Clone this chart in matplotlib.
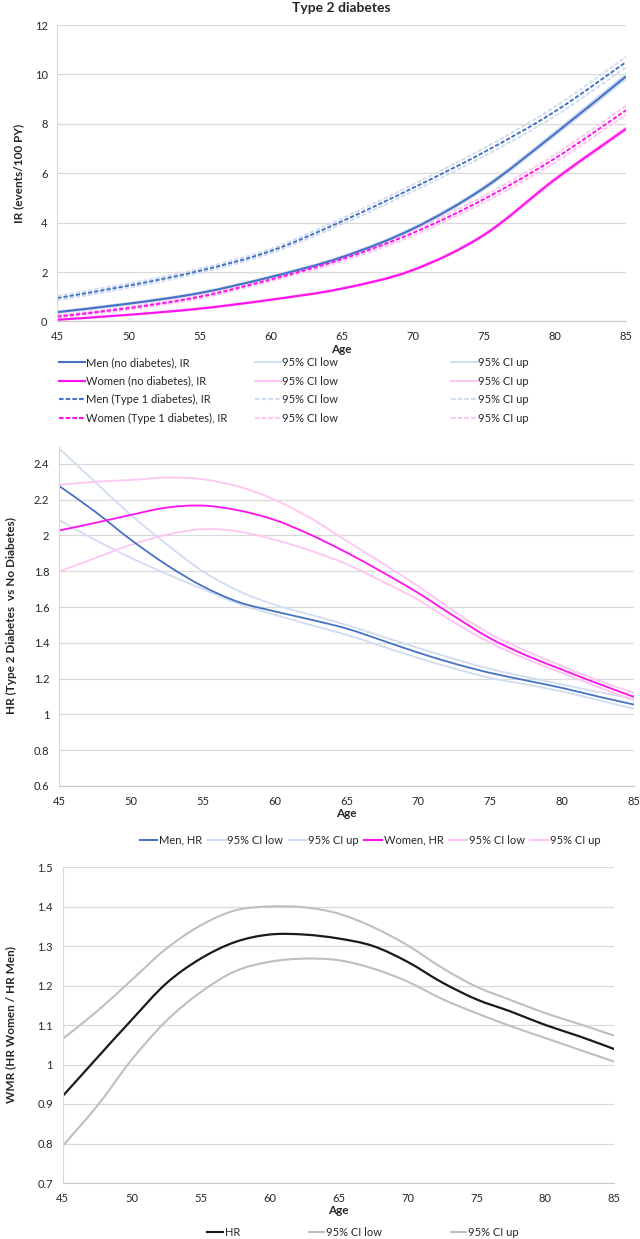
import numpy as np
import matplotlib
matplotlib.use('Agg')
import matplotlib.pyplot as plt
from matplotlib.path import Path
from matplotlib.patches import PathPatch
from matplotlib.lines import Line2D
from matplotlib.ticker import FuncFormatter

plt.rcParams['font.family'] = ['Lato', 'DejaVu Sans']

# ---- panel 1: incidence rates (events/100 PY)
ages_ir = [45, 50, 55, 60, 65, 70, 75, 80, 85]
men_nd = [0.38, 0.72, 1.15, 1.80, 2.60, 3.75, 5.40, 7.60, 9.92]
men_nd_lo = [0.35, 0.69, 1.12, 1.77, 2.56, 3.70, 5.34, 7.52, 9.82]
men_nd_up = [0.41, 0.75, 1.18, 1.83, 2.64, 3.80, 5.46, 7.68, 10.02]
women_nd = [0.07, 0.27, 0.52, 0.88, 1.33, 2.08, 3.50, 5.75, 7.80]
women_nd_lo = [0.06, 0.26, 0.50, 0.86, 1.31, 2.05, 3.46, 5.70, 7.74]
women_nd_up = [0.08, 0.28, 0.54, 0.90, 1.35, 2.11, 3.54, 5.80, 7.86]
men_t1 = [0.95, 1.45, 2.05, 2.85, 4.05, 5.40, 6.85, 8.50, 10.50]
men_t1_lo = [0.86, 1.36, 1.96, 2.76, 3.93, 5.26, 6.69, 8.31, 10.29]
men_t1_up = [1.04, 1.54, 2.14, 2.94, 4.17, 5.54, 7.01, 8.69, 10.71]
women_t1 = [0.20, 0.54, 1.00, 1.70, 2.52, 3.58, 4.95, 6.60, 8.55]
women_t1_lo = [0.15, 0.48, 0.93, 1.63, 2.43, 3.47, 4.82, 6.44, 8.37]
women_t1_up = [0.25, 0.60, 1.07, 1.77, 2.61, 3.69, 5.08, 6.76, 8.73]

# ---- panel 2: HR type 2 diabetes vs no diabetes
ages_hr = [45, 47.5, 50, 52.5, 55, 57.5, 60, 62.5, 65, 67.5, 70, 72.5, 75, 77.5, 80, 82.5, 85]
men_hr = [2.277, 2.134, 1.976, 1.835, 1.716, 1.628, 1.576, 1.53, 1.48, 1.413, 1.345, 1.284, 1.232, 1.19, 1.148, 1.10, 1.055]
men_hr_lo = [2.087, 1.976, 1.875, 1.785, 1.70, 1.618, 1.557, 1.50, 1.445, 1.38, 1.315, 1.256, 1.204, 1.167, 1.128, 1.08, 1.031]
men_hr_up = [2.487, 2.30, 2.115, 1.95, 1.80, 1.69, 1.613, 1.557, 1.50, 1.435, 1.371, 1.31, 1.254, 1.21, 1.167, 1.126, 1.087]
women_hr = [2.028, 2.07, 2.115, 2.156, 2.167, 2.14, 2.087, 2.004, 1.905, 1.795, 1.678, 1.548, 1.425, 1.33, 1.25, 1.172, 1.098]
women_hr_lo = [1.799, 1.873, 1.948, 2.004, 2.035, 2.022, 1.976, 1.915, 1.84, 1.743, 1.64, 1.514, 1.40, 1.31, 1.232, 1.153, 1.079]
women_hr_up = [2.283, 2.30, 2.31, 2.324, 2.314, 2.273, 2.20, 2.097, 1.97, 1.845, 1.715, 1.576, 1.45, 1.355, 1.27, 1.19, 1.12]

# ---- panel 3: women-to-men ratio of HR
ages_wmr = [45, 47.5, 50, 52.5, 55, 57.5, 60, 62.5, 65, 67.5, 70, 72.5, 75, 77.5, 80, 82.5, 85]
wmr = [0.92, 1.017, 1.113, 1.205, 1.268, 1.31, 1.329, 1.329, 1.319, 1.30, 1.26, 1.208, 1.165, 1.134, 1.10, 1.071, 1.039]
wmr_lo = [0.794, 0.895, 1.012, 1.11, 1.183, 1.236, 1.26, 1.268, 1.264, 1.243, 1.21, 1.166, 1.13, 1.097, 1.067, 1.037, 1.007]
wmr_up = [1.065, 1.135, 1.214, 1.293, 1.352, 1.39, 1.40, 1.398, 1.382, 1.348, 1.302, 1.245, 1.197, 1.163, 1.13, 1.102, 1.073]

BLUE = '#4472C4'
BLUE_CI = '#D0DCF2'
PINK = '#FF10F0'
PINK_CI = '#FFC4F4'
DASH = (0, (2.2, 1.0))


def smooth_line(ax, x, y, **kw):
    # excel style smoothed line: cubic bezier through every data point
    x = np.asarray(x, float)
    y = np.asarray(y, float)
    n = len(x)
    verts = [(x[0], y[0])]
    codes = [Path.MOVETO]
    for i in range(n - 1):
        a = max(i - 1, 0)
        b = min(i + 2, n - 1)
        verts.append((x[i] + (x[i + 1] - x[a]) / 6, y[i] + (y[i + 1] - y[a]) / 6))
        verts.append((x[i + 1] - (x[b] - x[i]) / 6, y[i + 1] - (y[b] - y[i]) / 6))
        verts.append((x[i + 1], y[i + 1]))
        codes += [Path.CURVE4] * 3
    ax.add_patch(PathPatch(Path(verts, codes), fill=False, capstyle='butt', **kw))


def style_axes(ax, ylim, yticks):
    ax.set_xlim(45, 85)
    ax.set_xticks(range(45, 86, 5))
    ax.set_ylim(*ylim)
    ax.set_yticks(yticks)
    ax.yaxis.set_major_formatter(FuncFormatter(lambda v, p: f'{round(v, 2):g}'))
    ax.grid(axis='y', color='#D9D9D9', lw=0.9)
    ax.set_axisbelow(True)
    for s in ['top', 'right']:
        ax.spines[s].set_visible(False)
    ax.spines['left'].set_color('#D9D9D9')
    ax.spines['bottom'].set_color('#C8C8C8')
    ax.tick_params(length=0, labelsize=8, colors='#262626', pad=7)
    ax.set_xlabel('Age', fontsize=8.5, fontweight='bold', labelpad=1, color='#262626')


fig = plt.figure(figsize=(6.4, 12.39), dpi=100)
H = 1239.0
W = 640.0


def add_ax(left, right, top, bottom):
    return fig.add_axes([left / W, 1 - bottom / H, (right - left) / W, (bottom - top) / H])


# ---------------- panel 1
ax1 = add_ax(57.3, 626, 25, 321.5)
for lo, up, c, ls in [(men_nd_lo, men_nd_up, BLUE_CI, '-'), (women_nd_lo, women_nd_up, PINK_CI, '-'),
                      (men_t1_lo, men_t1_up, BLUE_CI, DASH), (women_t1_lo, women_t1_up, PINK_CI, DASH)]:
    smooth_line(ax1, ages_ir, lo, edgecolor=c, lw=1.4, linestyle=ls)
    smooth_line(ax1, ages_ir, up, edgecolor=c, lw=1.4, linestyle=ls)
smooth_line(ax1, ages_ir, men_nd, edgecolor=BLUE, lw=1.5)
smooth_line(ax1, ages_ir, women_nd, edgecolor=PINK, lw=1.5)
smooth_line(ax1, ages_ir, men_t1, edgecolor=BLUE, lw=1.4, linestyle=DASH)
smooth_line(ax1, ages_ir, women_t1, edgecolor=PINK, lw=1.4, linestyle=DASH)
style_axes(ax1, (0, 12), range(0, 13, 2))
ax1.set_title('Type 2 diabetes', fontsize=10, fontweight='bold', pad=9, color='#262626')
ax1.set_ylabel('IR (events/100 PY)', fontsize=8.5, fontweight='bold', color='#262626')
ax1.yaxis.set_label_coords(-0.058, 0.5)

leg_cols = [
    ([BLUE, PINK, BLUE, PINK], ['-', '-', DASH, DASH],
     ['Men (no diabetes), IR', 'Women (no diabetes), IR', 'Men (Type 1 diabetes), IR', 'Women (Type 1 diabetes), IR'], 59),
    ([BLUE_CI, PINK_CI, BLUE_CI, PINK_CI], ['-', '-', DASH, DASH], ['95% CI low'] * 4, 255),
    ([BLUE_CI, PINK_CI, BLUE_CI, PINK_CI], ['-', '-', DASH, DASH], ['95% CI up'] * 4, 451),
]
for colors, styles, labels, xpos in leg_cols:
    handles = [Line2D([], [], color=c, ls=s, lw=1.5) for c, s in zip(colors, styles)]
    fig.legend(handles, labels, loc='upper left', bbox_to_anchor=(xpos / W, 1 - 357 / H),
               frameon=False, fontsize=8, handlelength=2.3, handletextpad=0.1,
               labelspacing=0.68, borderpad=0, borderaxespad=0, labelcolor='#262626')

# ---------------- panel 2
ax2 = add_ax(59, 634, 446, 786)
smooth_line(ax2, ages_hr, men_hr_lo, edgecolor=BLUE_CI, lw=1.3)
smooth_line(ax2, ages_hr, men_hr_up, edgecolor=BLUE_CI, lw=1.3)
smooth_line(ax2, ages_hr, women_hr_lo, edgecolor=PINK_CI, lw=1.3)
smooth_line(ax2, ages_hr, women_hr_up, edgecolor=PINK_CI, lw=1.3)
smooth_line(ax2, ages_hr, men_hr, edgecolor=BLUE, lw=1.3)
smooth_line(ax2, ages_hr, women_hr, edgecolor=PINK, lw=1.3)
style_axes(ax2, (0.6, 2.5), np.arange(0.6, 2.41, 0.2))
ax2.set_ylabel('HR (Type 2 Diabetes  vs No Diabetes)', fontsize=8.5, fontweight='bold', color='#262626')
ax2.yaxis.set_label_coords(-0.073, 0.5)
handles = [Line2D([], [], color=c, lw=1.5) for c in [BLUE, BLUE_CI, BLUE_CI, PINK, PINK_CI, PINK_CI]]
labels = ['Men, HR', '95% CI low', '95% CI up', 'Women, HR', '95% CI low', '95% CI up']
fig.legend(handles, labels, loc='center', bbox_to_anchor=(370 / W, 1 - 840 / H), ncol=6,
           frameon=False, fontsize=8, handlelength=1.6, handletextpad=0.15, columnspacing=0.5,
           borderpad=0, borderaxespad=0, labelcolor='#262626')

# ---------------- panel 3
ax3 = add_ax(62.7, 614.3, 867, 1183)
smooth_line(ax3, ages_wmr, wmr_lo, edgecolor='#BFBFBF', lw=1.5)
smooth_line(ax3, ages_wmr, wmr_up, edgecolor='#BFBFBF', lw=1.5)
smooth_line(ax3, ages_wmr, wmr, edgecolor='#1A1A1A', lw=1.6)
style_axes(ax3, (0.7, 1.5), np.arange(0.7, 1.51, 0.1))
ax3.set_ylabel('WMR (HR Women / HR Men)', fontsize=8.5, fontweight='bold', color='#262626')
ax3.yaxis.set_label_coords(-0.085, 0.5)
handles = [Line2D([], [], color=c, lw=1.5) for c in ['#1A1A1A', '#BFBFBF', '#BFBFBF']]
fig.legend(handles, ['HR', '95% CI low', '95% CI up'], loc='center', bbox_to_anchor=(363 / W, 1 - 1232 / H),
           ncol=3, frameon=False, fontsize=8, handlelength=1.4, handletextpad=0.15, columnspacing=6.2,
           borderpad=0, borderaxespad=0, labelcolor='#262626')

fig.savefig('out.png', dpi=100)
